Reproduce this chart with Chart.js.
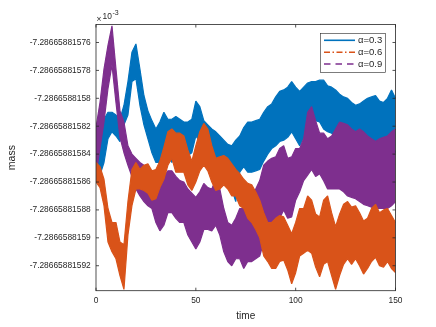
<!DOCTYPE html>
<html>
<head>
<meta charset="utf-8">
<script src="https://cdn.jsdelivr.net/npm/chart.js@4.4.1/dist/chart.umd.min.js"></script>
<style>
    html, body { margin: 0; padding: 0; background: #fff; }
</style>
</head>
<body>
<canvas id="massChart" width="436" height="327"></canvas>
<script>
// mass values are read as steps of 1e-11 away from -7.2866588158 (the axis is x10^-3)
// each series is the upper and lower edge of its noise band, sampled every 2 time units
const time = [
    0, 2, 4, 6, 8, 10, 12, 14, 16, 18,
    20, 22, 24, 26, 28, 30, 32, 34, 36, 38,
    40, 42, 44, 46, 48, 50, 52, 54, 56, 58,
    60, 62, 64, 66, 68, 70, 72, 74, 76, 78,
    80, 82, 84, 86, 88, 90, 92, 94, 96, 98,
    100, 102, 104, 106, 108, 110, 112, 114, 116, 118,
    120, 122, 124, 126, 128, 130, 132, 134, 136, 138,
    140, 142, 144, 146, 148, 150
];

const blueHi = [
    -3.6, -2.2, -1.5, -1.0, -1.0, -1.2, -1.5, -0.5, 1.2, 3.3,
    3.9, 2.1, 0.2, -0.9, -1.6, -2.2, -1.7, -1.0, -1.5, -1.5,
    -1.3, -1.5, -1.7, -1.7, -1.5, -0.2, -0.6, -1.6, -1.9, -2.2,
    -2.4, -2.7, -3.0, -3.3, -3.4, -3.0, -2.7, -2.1, -1.7, -1.7,
    -1.6, -1.5, -1.0, -0.6, -0.4, 0.1, 0.5, 0.6, 0.8, 1.2,
    0.8, 0.5, 0.8, 1.1, 1.2, 1.2, 1.3, 1.3, 0.9, 0.8,
    0.6, 0.3, 0.1, 0.0, -0.3, -0.5, -0.4, -0.2, 0.0, 0.1,
    0.2, -0.2, -0.3, 0.0, 0.6, 0.0
];
const blueLo = [
    -5.3, -5.5, -4.6, -2.9, -2.4, -2.7, -3.1, -1.9, -1.2, 1.2,
    1.4, -0.5, -1.9, -2.9, -3.9, -4.6, -4.6, -4.1, -4.2, -4.6,
    -3.6, -3.9, -4.1, -4.1, -3.9, -2.7, -3.1, -4.1, -4.3, -4.7,
    -5.2, -5.3, -5.5, -5.8, -6.5, -7.4, -5.3, -4.9, -5.3, -5.3,
    -5.2, -5.1, -4.5, -4.0, -3.6, -3.4, -3.1, -3.0, -2.8, -2.4,
    -2.9, -3.4, -2.8, -2.2, -1.7, -1.6, -1.7, -2.2, -2.4, -2.5,
    -2.8, -2.9, -3.1, -3.4, -3.5, -3.6, -3.6, -3.5, -3.4, -3.3,
    -3.1, -3.5, -3.6, -3.4, -3.1, -3.9
];

const orangeHi = [
    -4.6, -4.9, -5.8, -7.9, -8.9, -8.9, -10.3, -10.5, -7.4, -5.1,
    -4.6, -5.1, -4.8, -4.7, -5.2, -5.1, -4.5, -3.5, -2.4, -2.2,
    -2.5, -2.5, -2.7, -3.7, -4.5, -3.4, -2.4, -1.8, -2.2, -3.4,
    -4.3, -4.2, -4.1, -4.3, -4.7, -5.1, -5.4, -5.8, -6.1, -6.2,
    -6.7, -7.3, -8.2, -8.9, -8.9, -8.6, -8.4, -8.5, -9.1, -9.7,
    -8.9, -7.9, -7.9, -7.0, -7.3, -8.3, -8.5, -7.3, -7.0, -8.2,
    -9.2, -8.3, -7.6, -7.4, -7.8, -7.7, -8.2, -8.8, -8.6, -7.9,
    -7.6, -8.2, -8.0, -7.9, -8.4, -8.9
];
const orangeLo = [
    -6.0, -6.4, -7.7, -10.3, -11.0, -11.5, -12.7, -13.7, -9.8, -7.7,
    -6.5, -6.5, -6.6, -6.8, -7.3, -7.2, -6.4, -5.8, -4.8, -4.3,
    -5.3, -5.3, -5.3, -6.2, -6.6, -6.0, -5.2, -4.8, -5.2, -6.0,
    -6.6, -6.5, -6.2, -6.5, -7.0, -7.0, -7.7, -7.9, -8.6, -8.9,
    -9.4, -10.0, -11.3, -11.7, -12.2, -12.2, -11.7, -11.6, -12.3, -13.3,
    -12.5, -11.3, -11.1, -10.9, -11.1, -12.1, -12.8, -11.9, -11.7, -12.7,
    -13.7, -12.7, -11.9, -11.5, -11.9, -11.5, -12.0, -12.6, -12.2, -11.7,
    -11.4, -12.0, -12.1, -11.7, -12.2, -12.5
];

const purpleHi = [
    -2.1, -0.3, 2.1, 3.8, 5.2, 2.1, -0.9, -1.7, -3.4, -4.0,
    -4.3, -4.6, -4.8, -5.3, -5.5, -6.0, -6.5, -5.6, -5.2, -5.2,
    -5.6, -5.9, -6.0, -6.5, -6.8, -7.1, -6.7, -6.1, -6.4, -6.5,
    -5.8, -6.5, -7.9, -8.9, -9.1, -8.6, -7.9, -7.9, -7.7, -7.2,
    -6.5, -5.9, -4.8, -4.5, -4.3, -4.2, -3.6, -3.4, -4.3, -4.2,
    -3.6, -3.6, -2.9, -1.0, -0.6, -1.6, -2.5, -2.5, -2.9, -2.7,
    -2.2, -1.7, -1.8, -1.9, -2.2, -2.4, -2.2, -2.4, -2.7, -2.9,
    -3.1, -2.9, -2.8, -2.7, -2.4, -2.2
];
const purpleLo = [
    -5.5, -3.6, -1.7, 0.7, 2.4, -0.3, -2.8, -3.9, -4.8, -5.6,
    -6.5, -7.0, -7.4, -7.7, -7.9, -8.9, -9.5, -9.1, -8.2, -8.2,
    -8.6, -8.9, -8.9, -9.8, -10.3, -10.8, -10.3, -9.4, -9.4, -9.5,
    -9.1, -9.8, -11.0, -11.7, -12.0, -11.5, -11.5, -12.2, -11.7, -11.7,
    -11.5, -11.3, -10.3, -9.6, -9.4, -9.1, -8.6, -8.0, -8.6, -8.5,
    -7.3, -6.7, -5.9, -5.5, -5.1, -5.6, -5.4, -5.9, -6.5, -6.5,
    -6.5, -6.5, -6.7, -7.0, -7.1, -7.2, -7.4, -7.6, -7.7, -7.8,
    -7.9, -7.9, -7.9, -7.9, -7.7, -7.4
];

const seriesNames = ['\u03b1=0.3', '\u03b1=0.6', '\u03b1=0.9'];
const yTickValues = [-12, -10, -8, -6, -4, -2, 0, 2, 4];
const yTickLabels = [
    '-7.28665881592', '-7.2866588159', '-7.28665881588', '-7.28665881586',
    '-7.28665881584', '-7.28665881582', '-7.2866588158', '-7.28665881578',
    '-7.28665881576'
];
const xTickValues = [0, 50, 100, 150];

const colors = ['#0072BD', '#D95319', '#7E2F8E'];
const legendDashes = [[], [6, 2.5, 1.5, 2.5], [6.5, 5]];
const axisColor = '#262626';
const font = "'Liberation Sans', Arial, Helvetica, sans-serif";

const edge = vals => time.map((t, i) => ({ x: t, y: vals[i] }));

// each band: upper edge filled down to the lower edge
const band = (hi, lo, color, order) => ([
    { data: edge(hi), borderColor: color, backgroundColor: color, fill: '+1', order },
    { data: edge(lo), borderColor: color, backgroundColor: color, fill: false, order }
]);

const matlabAxes = {
    id: 'matlabAxes',
    afterDatasetsDraw(chart) {
        const { ctx, chartArea: a, scales } = chart;
        const x = scales.x, y = scales.y;
        ctx.save();
        ctx.strokeStyle = axisColor;
        ctx.lineWidth = 0.8;
        ctx.strokeRect(a.left, a.top, a.right - a.left, a.bottom - a.top);

        const tl = 3;
        ctx.beginPath();
        xTickValues.forEach(v => {
            const px = x.getPixelForValue(v);
            ctx.moveTo(px, a.bottom); ctx.lineTo(px, a.bottom - tl);
            ctx.moveTo(px, a.top); ctx.lineTo(px, a.top + tl);
        });
        yTickValues.forEach(v => {
            const py = y.getPixelForValue(v);
            ctx.moveTo(a.left, py); ctx.lineTo(a.left + tl, py);
            ctx.moveTo(a.right, py); ctx.lineTo(a.right - tl, py);
        });
        ctx.stroke();

        // exponent above the y axis
        ctx.fillStyle = axisColor;
        ctx.textAlign = 'left';
        ctx.textBaseline = 'alphabetic';
        ctx.font = `8.4px ${font}`;
        ctx.fillText('\u00d7', a.left + 0.5, a.top - 3);
        ctx.fillText('10', a.left + 6.5, a.top - 5.5);
        ctx.font = `7px ${font}`;
        ctx.fillText('-3', a.left + 16.5, a.top - 9.5);

        // legend box in the upper right corner
        const bx = 320.5, by = 33.5, bw = 65, bh = 39;
        ctx.fillStyle = '#fff';
        ctx.fillRect(bx, by, bw, bh);
        ctx.strokeStyle = axisColor;
        ctx.lineWidth = 0.6;
        ctx.strokeRect(bx, by, bw, bh);
        const rows = [40.3, 52.2, 64.0];
        seriesNames.forEach((name, i) => {
            ctx.beginPath();
            ctx.strokeStyle = colors[i];
            ctx.lineWidth = 1.6;
            ctx.setLineDash(legendDashes[i]);
            ctx.moveTo(bx + 3.5, rows[i]);
            ctx.lineTo(bx + 34.5, rows[i]);
            ctx.stroke();
            ctx.setLineDash([]);
            ctx.fillStyle = axisColor;
            ctx.font = `9.5px ${font}`;
            ctx.textBaseline = 'middle';
            ctx.fillText(name, bx + 37.5, rows[i] + 0.5);
        });
        ctx.restore();
    }
};

new Chart(document.getElementById('massChart'), {
    type: 'line',
    data: {
        datasets: [
            ...band(blueHi, blueLo, colors[0], 3),
            ...band(orangeHi, orangeLo, colors[1], 1),
            ...band(purpleHi, purpleLo, colors[2], 2)
        ]
    },
    options: {
        responsive: false,
        animation: false,
        devicePixelRatio: 1,
        layout: { padding: { top: 24.5, right: 40.5, bottom: 0, left: 0 } },
        elements: {
            line: { borderWidth: 1.2, tension: 0, borderJoinStyle: 'bevel' },
            point: { radius: 0, hoverRadius: 0 }
        },
        plugins: {
            legend: { display: false },
            tooltip: { enabled: false },
            filler: { propagate: false }
        },
        scales: {
            x: {
                type: 'linear',
                min: 0,
                max: 150,
                afterBuildTicks: scale => { scale.ticks = xTickValues.map(v => ({ value: v })); },
                afterFit: scale => { scale.height = 36.3; },
                grid: { display: false, drawTicks: false },
                border: { display: false },
                ticks: { color: axisColor, font: { family: font, size: 8.4 }, padding: 5, maxRotation: 0 },
                title: { display: true, text: 'time', color: axisColor, font: { family: font, size: 10 }, padding: { top: 0, bottom: 4.5 } }
            },
            y: {
                type: 'linear',
                min: -13.79,
                max: 5.29,
                afterBuildTicks: scale => { scale.ticks = yTickValues.map(v => ({ value: v })); },
                afterFit: scale => { scale.width = 96; },
                grid: { display: false, drawTicks: false },
                border: { display: false },
                ticks: {
                    color: axisColor,
                    font: { family: font, size: 8.4 },
                    padding: 5.3,
                    callback: (value) => yTickLabels[yTickValues.indexOf(value)]
                },
                title: { display: true, text: 'mass', color: axisColor, font: { family: font, size: 10.5 }, padding: { top: 6.3, bottom: 0 } }
            }
        }
    },
    plugins: [matlabAxes]
});
</script>
</body>
</html>
